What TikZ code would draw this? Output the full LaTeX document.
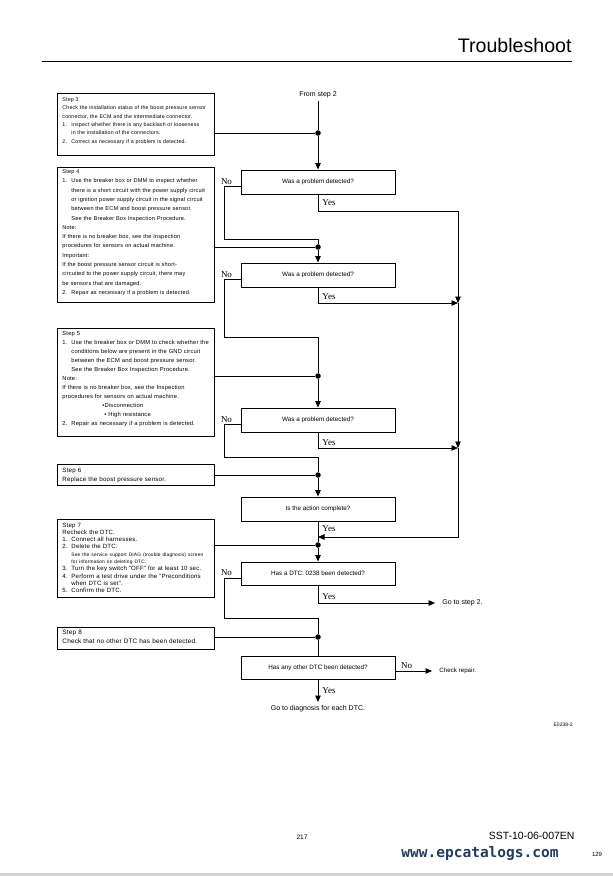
\documentclass[tikz,border=0pt]{standalone}
\usepackage{fontspec}
\setmainfont{Liberation Sans}
\newfontfamily\lserif{Liberation Serif}
\newfontfamily\dmono{DejaVu Sans Mono}
\newfontfamily\stepfont[LetterSpace=3]{Liberation Sans}
\usetikzlibrary{arrows.meta}
\definecolor{wmark}{HTML}{243B5E}
\newcommand{\itm}[2]{\makebox[9pt][l]{#1}#2}
\newcommand{\ind}{\hspace*{9pt}}
\newcommand{\smallln}{\fontsize{4.85}{7.3}\selectfont}
\begin{document}
\begin{tikzpicture}[x=1pt,y=-1pt,line width=0.9pt,
  every node/.style={inner sep=0pt},
  stepbox/.style={draw,line width=0.9pt,minimum width=157pt,anchor=north west},
  steptext/.style={anchor=base west,align=left,text width=200pt},
  qbox/.style={draw,line width=0.9pt,minimum width=154pt,minimum height=24pt,font=\fontsize{6.3}{7}\selectfont},
  lab/.style={font=\lserif\fontsize{9}{10}\selectfont},
  dot/.style={circle,fill,minimum size=5.5pt},
  arr/.style={-{Triangle[length=6.5pt,width=5.5pt]}},
  endtext/.style={font=\fontsize{6.5}{8}\selectfont}]
\useasboundingbox (0,0) rectangle (613,876);

% header
\node[anchor=base east,font=\fontsize{19.6}{22}\selectfont] (title) at (572,52) {Troubleshoot};
\coordinate (hl) at (42,61);
\draw[line width=0.8pt] (hl) -- (hl -| title.east);

% step boxes
\node[stepbox,minimum height=62pt] (s3) at (57,93) {};
\node[steptext,font=\stepfont\fontsize{5.3}{8.3}\selectfont] (s3t) at (62,101.5) {Step 3\\
Check the installation status of the boost pressure sensor\\
connector, the ECM and the intermediate connector.\\
\itm{1.}{Inspect whether there is any backlash or looseness}\\
\ind in the installation of the connectors.\\
\itm{2.}{Correct as necessary if a problem is detected.}};

\node[stepbox,minimum height=135pt] (s4) at (57,167) {};
\node[steptext,font=\stepfont\fontsize{5.6}{9.3}\selectfont] (s4t) at (62,173.5) {Step 4\\
\itm{1.}{Use the breaker box or DMM to inspect whether}\\
\ind there is a short circuit with the power supply circuit\\
\ind or ignition power supply circuit in the signal circuit\\
\ind between the ECM and boost pressure sensor.\\
\ind See the Breaker Box Inspection Procedure.\\
Note:\\
If there is no breaker box, see the Inspection\\
procedures for sensors on actual machine.\\
Important:\\
If the boost pressure sensor circuit is short-\\
circuited to the power supply circuit, there may\\
be sensors that are damaged.\\
\itm{2.}{Repair as necessary if a problem is detected.}};

\node[stepbox,minimum height=108pt] (s5) at (57,328) {};
\node[steptext,font=\stepfont\fontsize{5.8}{9}\selectfont] (s5t) at (62,335) {Step 5\\
\itm{1.}{Use the breaker box or DMM to check whether the}\\
\ind conditions below are present in the GND circuit\\
\ind between the ECM and boost pressure sensor.\\
\ind See the Breaker Box Inspection Procedure.\\
Note:\\
If there is no breaker box, see the Inspection\\
procedures for sensors on actual machine.\\
\hspace*{40pt}•Disconnection\\
\hspace*{42pt}• High resistance\\
\itm{2.}{Repair as necessary if a problem is detected.}};

\node[stepbox,minimum height=21pt] (s6) at (57,464) {};
\node[steptext,font=\stepfont\fontsize{6.2}{9}\selectfont] (s6t) at (62,472) {Step 6\\
Replace the boost pressure sensor.};

\node[stepbox,minimum height=78pt] (s7) at (57,519) {};
\node[steptext,font=\stepfont\fontsize{6.1}{7.3}\selectfont] (s7t) at (62,527) {Step 7\\
Recheck the DTC.\\
\itm{1.}{Connect all harnesses.}\\
\itm{2.}{Delete the DTC.}\\
\ind{\smallln See the service support DIAG (trouble diagnosis) screen}\\
\ind{\smallln for information on deleting DTC.}\\
\itm{3.}{Turn the key switch ”OFF” for at least 10 sec.}\\
\itm{4.}{Perform a test drive under the ”Preconditions}\\
\ind when DTC is set”.\\
\itm{5.}{Confirm the DTC.}};

\node[stepbox,minimum height=22pt] (s8) at (57,627) {};
\node[steptext,font=\stepfont\fontsize{6.4}{9.5}\selectfont] (s8t) at (62,634) {Step 8\\
Check that no other DTC has been detected.};

% decision boxes
\node[qbox] (d1) at (318,182) {Was a problem detected?};
\node[qbox] (d2) at (318,275) {Was a problem detected?};
\node[qbox] (d3) at (318,420) {Was a problem detected?};
\node[qbox] (d4) at (318,509) {Is the action complete?};
\node[qbox,minimum height=23pt] (d5) at (318,573.5) {Has a DTC: 0238 been detected?};
\node[qbox,minimum height=23pt] (d6) at (318,667.5) {Has any other DTC been detected?};

% junction dots
\node[dot] (j1) at (318,133) {};
\node[dot] (j2) at (318,247) {};
\node[dot] (j3) at (318,376) {};
\node[dot] (j4) at (318,475) {};
\node[dot] (j5) at (318,545) {};
\node[dot] (j6) at (318,637) {};

% corner coordinates
\coordinate (n1) at (224,239);
\coordinate (n2) at (224,337);
\coordinate (n3) at (224,457);
\coordinate (n5) at (224,618);
\coordinate (y1) at (458,211);
\coordinate (r2) at (458,303);
\coordinate (r3) at (458,448);
\coordinate (r4) at (458,537);

% texts at ends
\node[endtext,inner sep=2pt,font=\fontsize{7}{8}\selectfont] (from2) at (318,95) {From step 2};
\node[endtext,anchor=west,inner xsep=7pt,font=\fontsize{7}{8}\selectfont] (go2) at (435,603) {Go to step 2.};
\node[endtext,anchor=west,inner xsep=7pt,font=\fontsize{6.2}{8}\selectfont] (chk) at (432,671) {Check repair.};
\node[endtext,anchor=north,inner ysep=3pt,font=\fontsize{7}{8}\selectfont] (diag) at (318,702) {Go to diagnosis for each DTC.};

% main line
\draw (from2) -- (j1);
\draw (s3.east |- j1) -- (j1);
\draw[arr] (j1) -- (d1.north);
\draw ([yshift=-4pt]d1.west) -| (n1) -- (n1 -| j2) -- (j2);
\draw (s4.east |- j2) -- (j2);
\draw[arr] (j2) -- (d2.north);
\draw ([yshift=-4pt]d2.west) -| (n2) -- (n2 -| j3) -- (j3);
\draw (s5.east |- j3) -- (j3);
\draw[arr] (j3) -- (d3.north);
\draw ([yshift=-4pt]d3.west) -| (n3) -- (n3 -| j4) -- (j4);
\draw (s6.east |- j4) -- (j4);
\draw[arr] (j4) -- (d4.north);
\draw (d4.south) -- (j5);
\draw (s7.east |- j5) -- (j5);
\draw[arr] (j5) -- (d5.north);
\draw ([yshift=-5pt]d5.west) -| (n5) -- (n5 -| j6) -- (j6);
\draw (s8.east |- j6) -- (j6);
\draw (j6) -- (d6.north);

% yes branches on the right
\draw (d1.south) |- (y1);
\draw[arr] (y1) -- (r2);
\draw[arr] (d2.south) |- (r2);
\draw[arr] (r2) -- (r3);
\draw[arr] (d3.south) |- (r3);
\draw[arr] (r3) -- (r4) -- (r4 -| j5);
\draw[arr] (d5.south) |- (go2.west);
\draw[arr] ([yshift=-3.5pt]d6.east) -- (chk.west);
\draw[arr] (d6.south) -- (diag.north);

% labels
\node[lab] (no1) at (226.5,182) {No};
\node[lab] (no2) at (226.5,275) {No};
\node[lab] (no3) at (226.5,420) {No};
\node[lab] (no5) at (226.5,573) {No};
\node[lab] (no6) at (406.5,666) {No};
\node[lab] (ye1) at (329,203) {Yes};
\node[lab] (ye2) at (329,297) {Yes};
\node[lab] (ye3) at (329,443) {Yes};
\node[lab] (ye4) at (329,529) {Yes};
\node[lab] (ye5) at (329,597) {Yes};
\node[lab] (ye6) at (329,691) {Yes};

% figure code and footer
\node[anchor=base east,font=\fontsize{5}{6}\selectfont] (fig) at (573,726) {E0238-2};
\node[anchor=base,font=\fontsize{6.5}{8}\selectfont] (pg) at (302,839) {217};
\node[anchor=base east,font=\fontsize{10.5}{12}\selectfont] (doc) at (575,839) {SST-10-06-007EN};
\node[anchor=base west,font=\dmono\bfseries\fontsize{14.5}{16}\selectfont,text=wmark] (wm) at (401,857) {www.epcatalogs.com};
\node[anchor=base,font=\fontsize{6}{7}\selectfont] (pn) at (597,856) {129};
\fill[gray!35] (0,873) rectangle (613,876);
\end{tikzpicture}
\end{document}
